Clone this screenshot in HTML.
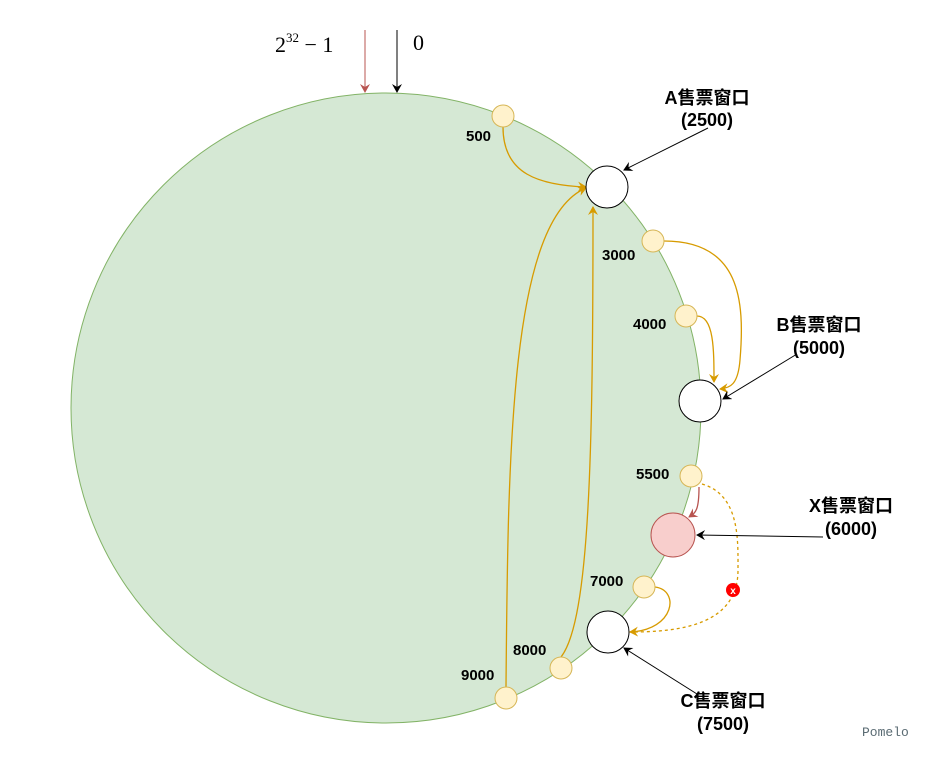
<!DOCTYPE html>
<html><head><meta charset="utf-8"><style>
html,body{margin:0;padding:0;background:#fff;}
svg{display:block}
.l{font-family:"Liberation Sans","Noto Sans CJK SC",sans-serif;font-weight:bold;font-size:15px;fill:#000}
.t{font-family:"Liberation Sans","Noto Sans CJK SC",sans-serif;font-weight:bold;font-size:18px;fill:#000;text-anchor:middle}
</style></head><body>
<svg width="930" height="759" viewBox="0 0 930 759" xmlns="http://www.w3.org/2000/svg">
<defs>
<marker id="ab" markerWidth="10" markerHeight="10" refX="8" refY="5" orient="auto" markerUnits="userSpaceOnUse"><path d="M0,0 L9,5 L0,10 L3,5z" fill="#000"/></marker>
<marker id="ar" markerWidth="10" markerHeight="10" refX="8" refY="5" orient="auto" markerUnits="userSpaceOnUse"><path d="M0,0 L9,5 L0,10 L3,5z" fill="#b85450"/></marker>
<marker id="ay" markerWidth="10" markerHeight="10" refX="8" refY="5" orient="auto" markerUnits="userSpaceOnUse"><path d="M0,0 L9,5 L0,10 L3,5z" fill="#d79b00"/></marker>
</defs>
<circle cx="386" cy="408" r="315" fill="#d5e8d4" stroke="#82b366" stroke-width="1"/>
<text x="275" y="52" font-family="Liberation Serif,serif" font-size="22">2<tspan font-size="13" dy="-10">32</tspan><tspan dy="10"> − 1</tspan></text>
<text x="413" y="50" font-family="Liberation Serif,serif" font-size="22">0</text>
<line x1="365" y1="30" x2="365" y2="92" stroke="#b85450" marker-end="url(#ar)"/>
<line x1="397" y1="30" x2="397" y2="92" stroke="#000" marker-end="url(#ab)"/>
<g fill="none" stroke="#d79b00" stroke-width="1.3">
<path d="M503,127 C503,175 540,185 586,187" marker-end="url(#ay)"/>
<path d="M506,687 C508,450 510,220 586,188" marker-end="url(#ay)"/>
<path d="M561,657 C590,620 593,450 593,207" marker-end="url(#ay)"/>
<path d="M664,241 C740,241 745,300 740,360 C738,385 730,388 720,389" marker-end="url(#ay)"/>
<path d="M697,316 C714,316 714,350 714,382" marker-end="url(#ay)"/>
<path d="M655,587 C680,590 675,630 630,632" marker-end="url(#ay)"/>
<path d="M702,484 C740,495 738,540 738,570 C738,625 680,632 630,632" stroke-dasharray="3,3"/>
</g>
<path d="M699,487 C699,512 695,513 689,517" fill="none" stroke="#b85450" stroke-width="1.3" marker-end="url(#ar)"/>
<circle cx="607" cy="187" r="21" fill="#fff" stroke="#000"/>
<circle cx="700" cy="401" r="21" fill="#fff" stroke="#000"/>
<circle cx="608" cy="632" r="21" fill="#fff" stroke="#000"/>
<circle cx="673" cy="535" r="22" fill="#f8cecc" stroke="#b85450"/>
<g fill="#fff2cc" stroke="#d6b656">
<circle cx="503" cy="116" r="11"/><circle cx="653" cy="241" r="11"/><circle cx="686" cy="316" r="11"/>
<circle cx="691" cy="476" r="11"/><circle cx="644" cy="587" r="11"/><circle cx="561" cy="668" r="11"/><circle cx="506" cy="698" r="11"/>
</g>
<circle cx="733" cy="590" r="7" fill="#f00"/>
<text x="733" y="594" font-family="Liberation Sans,sans-serif" font-size="10" font-weight="bold" fill="#fff" text-anchor="middle">x</text>
<g stroke="#000" fill="none">
<line x1="708" y1="128" x2="624" y2="170" marker-end="url(#ab)"/>
<line x1="797" y1="354" x2="723" y2="399" marker-end="url(#ab)"/>
<line x1="823" y1="537" x2="697" y2="535" marker-end="url(#ab)"/>
<line x1="697" y1="694" x2="624" y2="648" marker-end="url(#ab)"/>
</g>
<text class="l" x="466" y="141">500</text>
<text class="l" x="602" y="260">3000</text>
<text class="l" x="633" y="329">4000</text>
<text class="l" x="636" y="479">5500</text>
<text class="l" x="590" y="586">7000</text>
<text class="l" x="513" y="655">8000</text>
<text class="l" x="461" y="680">9000</text>
<text class="t" x="707" y="104">A售票窗口</text><text class="t" x="707" y="126">(2500)</text>
<text class="t" x="819" y="331">B售票窗口</text><text class="t" x="819" y="354">(5000)</text>
<text class="t" x="851" y="512">X售票窗口</text><text class="t" x="851" y="535">(6000)</text>
<text class="t" x="723" y="707">C售票窗口</text><text class="t" x="723" y="730">(7500)</text>
<text x="862" y="736" font-family="Liberation Mono,monospace" font-size="13" fill="#5a6b73">Pomelo</text>
</svg>
</body></html>
